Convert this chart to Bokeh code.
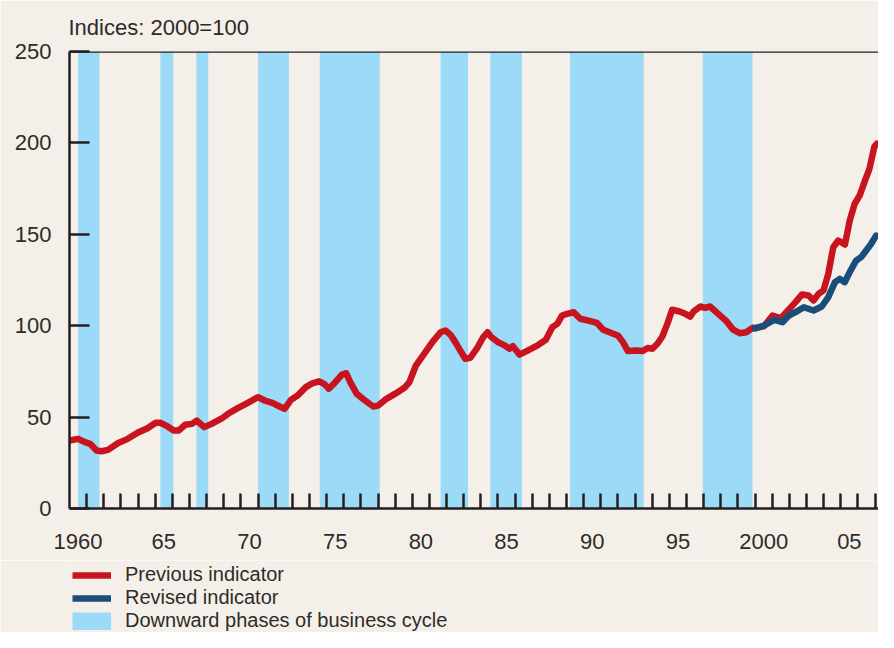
from bokeh.plotting import figure
from bokeh.layouts import column
from bokeh.models import Range1d, FixedTicker, Span, Legend, LegendItem, ColumnDataSource
from bokeh.embed import file_html
from bokeh.resources import INLINE

# ---------------- data ----------------
prev_year = [1960.0, 1960.5, 1960.9, 1961.2, 1961.58, 1961.86, 1962.25, 1962.82, 1963.4, 1963.97,
             1964.55, 1965.03, 1965.31, 1965.7, 1966.08, 1966.37, 1966.75, 1967.14, 1967.42, 1967.86,
             1968.29, 1968.86, 1969.25, 1969.82, 1970.4, 1971.0, 1971.39, 1971.87, 1972.26, 1972.55,
             1972.93, 1973.31, 1973.79, 1974.17, 1974.56, 1974.85, 1975.13, 1975.51, 1975.9, 1976.15,
             1976.38, 1976.76, 1977.24, 1977.72, 1978.01, 1978.49, 1979.06, 1979.54, 1979.83, 1980.21,
             1980.69, 1981.17, 1981.65, 1981.94, 1982.23, 1982.51, 1982.8, 1983.09, 1983.38, 1983.76,
             1984.14, 1984.39, 1984.62, 1985.0, 1985.39, 1985.68, 1985.87, 1986.25, 1986.73, 1987.31,
             1987.79, 1988.17, 1988.46, 1988.74, 1989.03, 1989.42, 1989.8, 1990.28, 1990.76, 1991.14,
             1991.72, 1992.0, 1992.29, 1992.58, 1993.06, 1993.44, 1993.73, 1994.01, 1994.3, 1994.59,
             1994.88, 1995.16, 1995.55, 1995.93, 1996.22, 1996.42, 1996.8, 1997.08, 1997.37, 1997.85,
             1998.33, 1998.72, 1999.1, 1999.48, 1999.87, 2000.06, 2000.53, 2001.02, 2001.5, 2001.88,
             2002.36, 2002.74, 2003.12, 2003.41, 2003.7, 2003.99, 2004.27, 2004.56, 2004.85, 2005.24,
             2005.52, 2005.81, 2006.1, 2006.38, 2006.67, 2006.96, 2007.1]
prev_value = [37.2, 38.1, 36.3, 35.4, 31.7, 31.3, 32.1, 35.7, 38.1, 41.4,
              43.9, 46.9, 46.9, 45.0, 42.7, 42.7, 45.8, 46.3, 48.1, 44.5,
              46.3, 49.1, 51.8, 54.9, 57.8, 60.9, 59.1, 57.6, 55.8, 54.5,
              59.5, 61.8, 66.4, 68.5, 69.6, 68.2, 65.5, 69.1, 73.3, 74.0,
              69.1, 62.7, 59.1, 55.8, 56.3, 60.0, 63.1, 66.0, 69.1, 78.2,
              84.6, 91.0, 96.4, 97.4, 95.0, 91.0, 86.4, 81.9, 82.4, 87.4,
              93.7, 96.4, 93.7, 91.0, 89.2, 87.4, 88.8, 84.2, 86.4, 89.2,
              92.3, 99.2, 101.0, 105.6, 106.5, 107.4, 103.8, 102.8, 101.6, 97.8,
              95.6, 94.6, 91.0, 86.1, 86.4, 86.1, 87.8, 87.4, 90.1, 94.1,
              101.0, 108.7, 107.9, 106.5, 105.0, 107.9, 110.5, 109.8, 110.5, 106.5,
              102.5, 97.8, 95.9, 96.4, 98.9, 98.8, 99.8, 105.6, 104.0, 108.0,
              112.9, 117.1, 116.5, 113.8, 117.4, 119.3, 128.4, 142.9, 146.6, 144.4,
              157.5, 166.7, 171.2, 178.5, 185.8, 198.0, 199.5]

rev_year = [2000.0, 2000.53, 2001.12, 2001.6, 2001.97, 2002.36, 2002.84, 2003.41, 2003.89, 2004.27,
            2004.66, 2004.94, 2005.23, 2005.52, 2005.9, 2006.19, 2006.48, 2006.77, 2007.06]
rev_value = [98.5, 100.1, 103.2, 101.9, 105.6, 107.4, 110.1, 108.3, 110.5, 115.6,
             123.8, 125.6, 123.8, 129.3, 135.7, 137.5, 141.1, 144.8, 149.3]

down_start = [1960.5, 1965.3, 1967.4, 1971.0, 1974.6, 1981.65, 1984.55, 1989.2, 1996.95]
down_end = [1961.75, 1966.05, 1968.1, 1972.8, 1978.1, 1983.25, 1986.4, 1993.5, 1999.85]

x_label_years = [1960, 1965, 1970, 1975, 1980, 1985, 1990, 1995, 2000, 2005]
x_labels = ["1960", "65", "70", "75", "80", "85", "90", "95", "2000", "05"]
y_ticks = [0, 50, 100, 150, 200, 250]

legend_labels = ["Previous indicator", "Revised indicator", "Downward phases of business cycle"]

# ---------------- style ----------------
BG = "#f4f0e9"
BAND = "#9cdbf7"
RED = "#c8141e"
BLUE = "#1a4e7a"
INK = "#231f20"
TXT = "#2e2b28"
FONT = "Liberation Sans"
LW = 6.5

prev_src = ColumnDataSource(dict(x=prev_year, y=prev_value))
rev_src = ColumnDataSource(dict(x=rev_year, y=rev_value))
bands = ColumnDataSource(dict(left=down_start, right=down_end,
                              bottom=[0] * len(down_start), top=[250] * len(down_start)))

p = figure(width=878, height=560, output_backend="svg", toolbar_location=None,
           x_range=Range1d(1960, 2007.2), y_range=Range1d(0, 250),
           min_border_left=69, min_border_right=0, min_border_top=51, min_border_bottom=52)
p.background_fill_color = BG
p.border_fill_color = BG
p.outline_line_color = None
p.xgrid.visible = False
p.ygrid.visible = False

p.title.text = "Indices: 2000=100"
p.title.align = "left"
p.title.text_font = FONT
p.title.text_font_style = "normal"
p.title.text_font_size = "22px"
p.title.text_color = TXT
p.title.offset = -1
p.title.standoff = 23

p.quad(left="left", right="right", bottom="bottom", top="top", source=bands,
       fill_color=BAND, line_color=None)
p.line("x", "y", source=prev_src, line_color=RED, line_width=LW, line_join="round", line_cap="round")
p.line("x", "y", source=rev_src, line_color=BLUE, line_width=LW, line_join="round", line_cap="round")

p.add_layout(Span(location=250, dimension="width", line_color=INK, line_width=2.5))

# y axis
ya = p.yaxis[0]
ya.ticker = FixedTicker(ticks=y_ticks)
ya.major_tick_in = 20
ya.major_tick_out = 0
ya.minor_tick_in = 0
ya.minor_tick_out = 0
ya.axis_line_color = INK
ya.axis_line_width = 2.5
ya.major_tick_line_color = INK
ya.major_tick_line_width = 2.5
ya.major_label_text_font = FONT
ya.major_label_text_font_size = "22px"
ya.major_label_text_color = TXT
ya.major_label_standoff = 18

# x axis: ticks at year boundaries, labels mid-year
xa = p.xaxis[0]
label_pos = [yr + 0.5 for yr in x_label_years]
xa.ticker = FixedTicker(ticks=label_pos, minor_ticks=list(range(1961, 2008)))
xa.major_label_overrides = {pos: lab for pos, lab in zip(label_pos, x_labels)}
xa.major_tick_in = 0
xa.major_tick_out = 0
xa.minor_tick_in = 15
xa.minor_tick_out = 0
xa.minor_tick_line_color = INK
xa.minor_tick_line_width = 2.5
xa.axis_line_color = INK
xa.axis_line_width = 2.5
xa.major_label_text_font = FONT
xa.major_label_text_font_size = "22px"
xa.major_label_text_color = TXT
xa.major_label_standoff = 25

# ---------------- legend strip (same series, outside its view) ----------------
lg = figure(width=878, height=72, output_backend="svg", toolbar_location=None,
            x_axis_location=None, y_axis_location=None,
            x_range=Range1d(0, 1), y_range=Range1d(0, 1),
            min_border_left=66, min_border_right=0, min_border_top=0, min_border_bottom=0)
lg.background_fill_color = BG
lg.border_fill_color = BG
lg.outline_line_color = None
lg.xgrid.visible = False
lg.ygrid.visible = False
r1 = lg.line("x", "y", source=prev_src, line_color=RED, line_width=LW)
r2 = lg.line("x", "y", source=rev_src, line_color=BLUE, line_width=LW)
# swatch for the shaded phases: a thick band-coloured stroke fills the legend glyph box
r3 = lg.line("left", "top", source=bands, line_color=BAND, line_width=18, line_cap="butt")

legend = Legend(items=[LegendItem(label=legend_labels[0], renderers=[r1]),
                       LegendItem(label=legend_labels[1], renderers=[r2]),
                       LegendItem(label=legend_labels[2], renderers=[r3])],
                location="top_left", orientation="vertical",
                border_line_alpha=0, background_fill_alpha=0,
                glyph_width=39, glyph_height=18, label_height=18,
                label_standoff=14, spacing=0, padding=0, margin=3,
                label_text_font=FONT, label_text_font_size="20px", label_text_color=TXT)
lg.add_layout(legend, "center")

layout = column(p, lg, spacing=0)
html = file_html(layout, INLINE)
open("out.html", "w").write(html)
